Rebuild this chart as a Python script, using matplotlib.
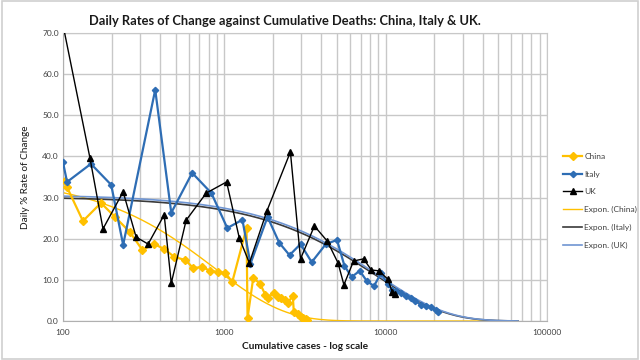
import numpy as np
import matplotlib
matplotlib.use("Agg")
import matplotlib.pyplot as plt
from matplotlib.patches import Rectangle
from matplotlib.ticker import FixedLocator, NullFormatter, LogLocator

plt.rcParams['font.family'] = ['Lato', 'DejaVu Sans']

# ---- data ----
china_x = [103, 106, 133, 172, 210, 260, 310, 368, 424, 489, 574, 641, 730, 818, 918,
           1014, 1120, 1373, 1393, 1511, 1670, 1798, 1852, 2019, 2137, 2232, 2364, 2469,
           2657, 2696, 2857, 2985, 3089, 3200, 3270]
china_y = [34.0, 32.5, 24.3, 28.7, 25.3, 21.6, 17.3, 18.7, 17.5, 15.6, 14.8, 12.9, 13.1, 12.2, 11.9,
           11.7, 9.5, 22.6, 0.7, 10.5, 9.0, 6.3, 5.6, 6.8, 5.8, 5.6, 5.1, 4.4,
           6.1, 2.2, 1.7, 1.0, 0.7, 0.4, 0.2]

italy_x = [100, 106, 149, 199, 236, 373, 469, 632, 831, 1043, 1295, 1451, 1853, 2191, 2536,
           2966, 3480, 4259, 4996, 5553, 6158, 6901, 7647, 8468, 9380, 10300, 11000, 11600,
           12400, 13300, 14300, 15300, 16500, 17700, 19000, 20400, 21000]
italy_y = [38.6, 33.8, 38.2, 33.1, 18.5, 56.2, 26.3, 36.0, 31.1, 22.6, 24.6, 13.9, 25.3, 19.0, 16.0,
           18.7, 14.3, 18.7, 19.7, 13.4, 10.7, 12.2, 9.7, 8.5, 11.7, 8.9, 7.6, 7.3,
           6.9, 6.1, 5.6, 4.9, 3.9, 3.6, 3.3, 2.7, 2.2]

uk_x = [100, 147, 177, 236, 284, 337, 424, 469, 580, 773, 1033, 1238, 1430, 1834, 2568,
        2966, 3616, 4350, 5070, 5510, 6330, 7296, 8150, 9070, 10300, 11000, 11500]
uk_y = [72.0, 39.6, 22.4, 31.4, 20.4, 18.7, 25.8, 9.2, 24.5, 31.1, 33.8, 20.2, 14.1, 26.7, 41.1,
        15.1, 23.1, 19.4, 14.1, 8.8, 14.6, 15.1, 12.4, 12.2, 10.2, 7.0, 6.6]

# exponential trendline coefficients y = a * exp(-b * x)
trend_china = (35.0, 1.15e-3)
trend_italy = (30.2, 1.15e-4)
trend_uk = (30.7, 1.13e-4)
trend_end = 66000

y_ticks = [0, 10, 20, 30, 40, 50, 60, 70]
x_ticks = [100, 1000, 10000, 100000]

# ---- figure ----
fig = plt.figure(figsize=(6.4, 3.6), dpi=100)
fig.patches.append(Rectangle((0.003, 0.004), 0.994, 0.992, transform=fig.transFigure,
                             fill=False, edgecolor='#D0D0D0', linewidth=1.2))
ax = fig.add_axes([0.0984, 0.1083, 0.7563, 0.80])

ax.set_xscale('log')
ax.set_xlim(100, 100000)
ax.set_ylim(0, 70)

grid_c = '#C8C8C8'
ax.xaxis.set_major_locator(FixedLocator(x_ticks))
ax.xaxis.set_minor_locator(LogLocator(base=10, subs=np.arange(2, 10), numticks=20))
ax.xaxis.set_minor_formatter(NullFormatter())
ax.set_xticklabels([str(v) for v in x_ticks])
ax.set_yticks(y_ticks)
ax.set_yticklabels([f"{v:.1f}" for v in y_ticks])
ax.grid(True, which='major', color=grid_c, linewidth=1.0)
ax.grid(True, which='minor', axis='x', color=grid_c, linewidth=1.0)
ax.set_axisbelow(True)
for s in ['top', 'right']:
    ax.spines[s].set_color(grid_c)
for s in ['left', 'bottom']:
    ax.spines[s].set_color('#B0B0B0')
ax.tick_params(axis='both', which='both', length=0, labelsize=6, labelcolor='#404040', pad=3)
ax.tick_params(axis='x', pad=6)

# trendlines
xt_c = np.logspace(2, np.log10(trend_end), 300)
ax.plot(xt_c, trend_china[0] * np.exp(-trend_china[1] * xt_c), color='#FFC000', lw=1.0,
        label='Expon. (China)', zorder=2)
ax.plot(xt_c, trend_italy[0] * np.exp(-trend_italy[1] * xt_c), color='#3A3A3A', lw=1.2,
        label='Expon. (Italy)', zorder=2)
ax.plot(xt_c, trend_uk[0] * np.exp(-trend_uk[1] * xt_c), color='#6F95D2', lw=1.2,
        label='Expon. (UK)', zorder=2)

# series
ax.plot(china_x, china_y, color='#FFC000', lw=1.6, marker='D', ms=4,
        label='China', zorder=4)
ax.plot(italy_x, italy_y, color='#2E6DB4', lw=1.6, marker='D', ms=3.2,
        label='Italy', zorder=5)
ax.plot(uk_x, uk_y, color='black', lw=1.0, marker='^', ms=4.5,
        label='UK', zorder=6)

handles, labels = ax.get_legend_handles_labels()
order = [3, 4, 5, 0, 1, 2]
leg = fig.legend([handles[i] for i in order], [labels[i] for i in order],
                 loc='upper left', bbox_to_anchor=(0.875, 0.585), frameon=False,
                 fontsize=6, handlelength=2.2, labelspacing=1.3, handletextpad=0.3,
                 borderaxespad=0)
for t in leg.get_texts():
    t.set_color('#404040')

fig.text(0.445, 0.942, "Daily Rates of Change against Cumulative Deaths: China, Italy & UK.",
         ha='center', va='center', fontsize=9.3, fontweight='bold', color='#1a1a1a')
ax.set_xlabel("Cumulative cases - log scale", fontsize=7.3, color='#1a1a1a', labelpad=4,
              fontweight='bold')
ax.set_ylabel("Daily % Rate of Change", fontsize=7.2, color='#1a1a1a', labelpad=9)

fig.savefig("out.png", dpi=100)
